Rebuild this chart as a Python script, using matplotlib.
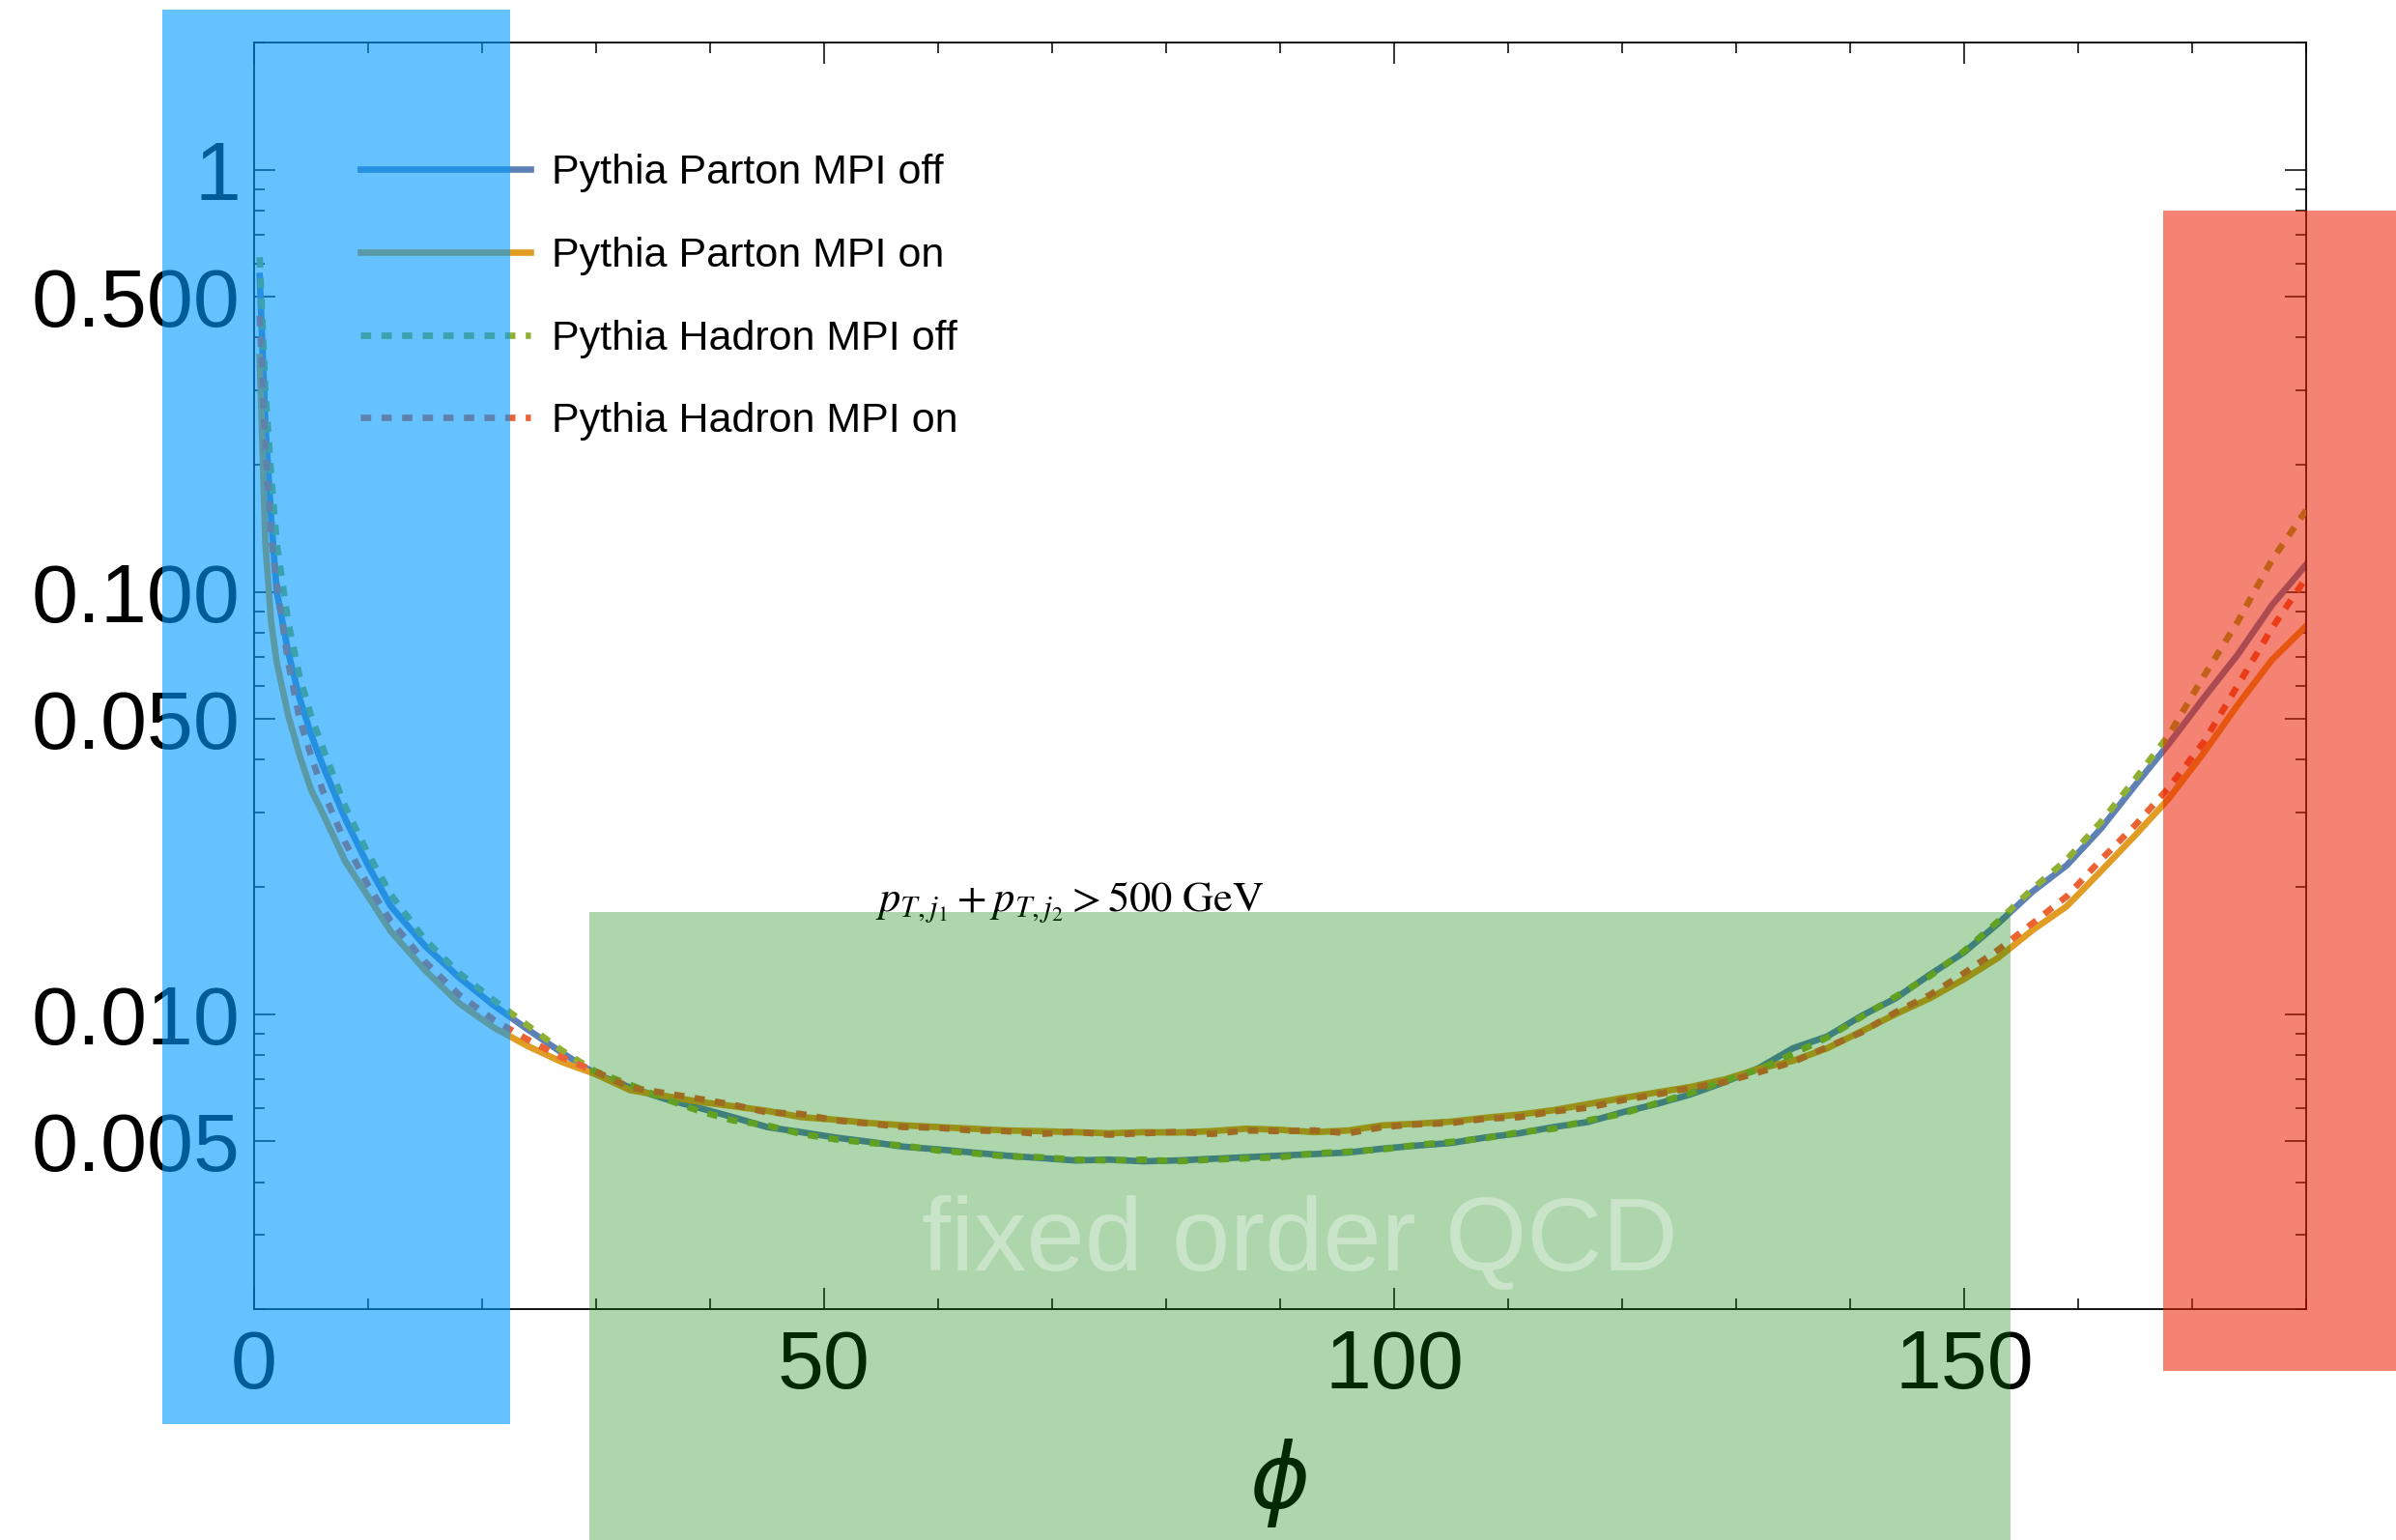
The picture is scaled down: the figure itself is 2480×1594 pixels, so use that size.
import matplotlib
matplotlib.use("Agg")
import matplotlib.pyplot as plt
import matplotlib.ticker as mticker
from matplotlib.patches import Rectangle
from matplotlib.transforms import blended_transform_factory

plt.rcParams['font.family'] = ['Liberation Sans', 'DejaVu Sans']
plt.rcParams['mathtext.fontset'] = 'stix'

# azimuthal angle grid (degrees)
phi = [0.5, 1, 1.5, 2, 3, 4, 5, 6, 8, 10, 12, 15, 18, 21, 24, 27, 30,
       33, 36, 39, 42, 45, 48, 51, 54, 57, 60, 63, 66, 69, 72, 75, 78, 81, 84,
       87, 90, 93, 96, 99, 102, 105, 108, 111, 114, 117, 120, 123, 126, 129,
       132, 135, 138, 141, 144, 147, 150, 153, 156, 159, 162, 165, 168, 171,
       174, 177, 180]

parton_off = [0.56, 0.25, 0.15, 0.10, 0.072, 0.056, 0.046, 0.039, 0.029, 0.0225,
              0.018, 0.0145, 0.0122, 0.0105, 0.0092, 0.0081, 0.0072,
              0.0067, 0.0063, 0.0060, 0.0057, 0.0054, 0.00525, 0.0051, 0.00498,
              0.00485, 0.00478, 0.00470, 0.00462, 0.00456, 0.00450, 0.00452,
              0.00448, 0.00450, 0.00454, 0.00458, 0.00462, 0.00466, 0.00470,
              0.00480, 0.00488, 0.00495, 0.00510, 0.00522, 0.00540, 0.00555,
              0.00585, 0.00612, 0.00645, 0.00690, 0.00745, 0.00830, 0.00885,
              0.00990, 0.01090, 0.01240, 0.01400, 0.01640, 0.01950, 0.02250,
              0.02750, 0.03480, 0.04380, 0.05600, 0.07100, 0.09300, 0.11600]

parton_on = [0.36, 0.13, 0.085, 0.068, 0.051, 0.041, 0.034, 0.030, 0.023, 0.019,
             0.0157, 0.0127, 0.0106, 0.0093, 0.0084, 0.0077, 0.0072,
             0.0066, 0.0064, 0.0062, 0.00605, 0.0059, 0.0057, 0.00562, 0.00552,
             0.00545, 0.00540, 0.00535, 0.00530, 0.00528, 0.00525, 0.00522,
             0.00525, 0.00524, 0.00528, 0.00535, 0.00532, 0.00525, 0.00530,
             0.00545, 0.00550, 0.00556, 0.00568, 0.00578, 0.00592, 0.00612,
             0.00632, 0.00652, 0.00672, 0.00700, 0.00742, 0.00775, 0.00830,
             0.00910, 0.01000, 0.01090, 0.01210, 0.01360, 0.01580, 0.01800,
             0.02180, 0.02650, 0.03250, 0.04150, 0.05400, 0.06900, 0.08300]

hadron_off = [0.62, 0.30, 0.19, 0.13, 0.085, 0.063, 0.051, 0.043, 0.031, 0.0240,
              0.0192, 0.0150, 0.0125, 0.0108, 0.0094, 0.0082, 0.0073,
              0.0068, 0.0063, 0.0059, 0.0056, 0.00545, 0.0052, 0.00505, 0.00495,
              0.00488, 0.00475, 0.00468, 0.00460, 0.00458, 0.00452, 0.00450,
              0.00452, 0.00448, 0.00452, 0.00455, 0.00458, 0.00468, 0.00472,
              0.00478, 0.00490, 0.00498, 0.00508, 0.00525, 0.00535, 0.00560,
              0.00580, 0.00615, 0.00650, 0.00695, 0.00740, 0.00805, 0.00880,
              0.00985, 0.01100, 0.01230, 0.01410, 0.01660, 0.01980, 0.02320,
              0.02850, 0.03600, 0.04600, 0.06300, 0.08500, 0.11900, 0.15600]

hadron_on = [0.45, 0.22, 0.135, 0.104, 0.068, 0.050, 0.041, 0.034, 0.0255, 0.0202,
             0.0166, 0.0133, 0.0111, 0.0097, 0.0087, 0.0079, 0.0073,
             0.0067, 0.0065, 0.0063, 0.0061, 0.00585, 0.0058, 0.0056, 0.0055,
             0.0054, 0.00538, 0.00530, 0.00528, 0.00520, 0.00526, 0.00518,
             0.00522, 0.00526, 0.00520, 0.00530, 0.00528, 0.00530, 0.00522,
             0.00540, 0.00548, 0.00552, 0.00565, 0.00570, 0.00588, 0.00600,
             0.00625, 0.00645, 0.00668, 0.00690, 0.00728, 0.00770, 0.00835,
             0.00905, 0.01010, 0.01110, 0.01250, 0.01420, 0.01640, 0.01900,
             0.02320, 0.02800, 0.03450, 0.04400, 0.06000, 0.08200, 0.10800]

labels = ['Pythia Parton MPI off', 'Pythia Parton MPI on',
          'Pythia Hadron MPI off', 'Pythia Hadron MPI on']
colors = ['#5E81B5', '#E19C24', '#8FB032', '#EB6235']

yticks = [0.005, 0.01, 0.05, 0.1, 0.5, 1]
yticklabels = ['0.005', '0.010', '0.050', '0.100', '0.500', '1']

# shaded regions: phi range, figure-height range, colour, alpha
region_phi = [(-8.0, 22.5), (29.4, 154.1), (167.5, 188.5)]
region_fig_y = [(0.0753, 0.9940), (0.0, 0.4078), (0.1098, 0.8632)]
region_colors = ['#0099FF', '#008000', '#EB1E00']
region_alpha = [0.6, 0.32, 0.55]

fig = plt.figure(figsize=(24.8, 15.94), dpi=100)
ax = fig.add_axes([0.1060, 0.1499, 0.8565, 0.8225])

lw = 4.8
dash = (0, (1.6, 1.6))
ax.plot(phi, parton_off, color=colors[0], lw=lw, label=labels[0], zorder=2)
ax.plot(phi, parton_on, color=colors[1], lw=lw, label=labels[1], zorder=2)
ax.plot(phi, hadron_off, color=colors[2], lw=lw, ls=dash, label=labels[2], zorder=3)
ax.plot(phi, hadron_on, color=colors[3], lw=lw, ls=dash, label=labels[3], zorder=3)

ax.set_yscale('log')
ax.set_xlim(0, 180)
ax.set_ylim(0.002, 2.0)

ax.set_yticks(yticks)
ax.set_yticklabels(yticklabels)
ax.yaxis.set_minor_locator(mticker.FixedLocator(
    [0.002, 0.003, 0.004, 0.006, 0.007, 0.008, 0.009,
     0.02, 0.03, 0.04, 0.06, 0.07, 0.08, 0.09,
     0.2, 0.3, 0.4, 0.6, 0.7, 0.8, 0.9, 2.0]))
ax.yaxis.set_minor_formatter(mticker.NullFormatter())
ax.xaxis.set_major_locator(mticker.MultipleLocator(50))
ax.xaxis.set_minor_locator(mticker.MultipleLocator(10))

ax.tick_params(which='both', direction='in', top=True, right=True, width=1.1,
               labelsize=62)
ax.tick_params(which='major', length=16)
ax.tick_params(which='minor', length=8)
ax.tick_params(axis='y', pad=10)
ax.tick_params(axis='x', pad=14)
for s in ax.spines.values():
    s.set_linewidth(1.3)

ax.set_xlabel('ϕ', fontsize=68, fontstyle='italic', family='DejaVu Sans',
              labelpad=25)

ax.text(54.5, 0.0175, r'$p_{T,j_1} + p_{T,j_2} > 500\ \mathrm{GeV}$',
        fontsize=32, va='baseline', ha='left')

ax.legend(loc='upper left', bbox_to_anchor=(0.0518, 0.912), frameon=False,
          fontsize=31, handlelength=4.1, handletextpad=0.5,
          labelspacing=1.06, borderpad=0, borderaxespad=0)

trans = blended_transform_factory(ax.transData, fig.transFigure)
for (x0, x1), (y0, y1), c, a in zip(region_phi, region_fig_y,
                                      region_colors, region_alpha):
    fig.add_artist(Rectangle((x0, y0), x1 - x0, y1 - y0, transform=trans,
                             facecolor=c, edgecolor='none', alpha=a,
                             zorder=5, clip_on=False))

fig.text(91.7, 0.00247, 'fixed order QCD', transform=ax.transData,
         fontsize=78, color='white', alpha=0.35, ha='center',
         va='baseline', zorder=6)

fig.savefig('out.png', dpi=100)
